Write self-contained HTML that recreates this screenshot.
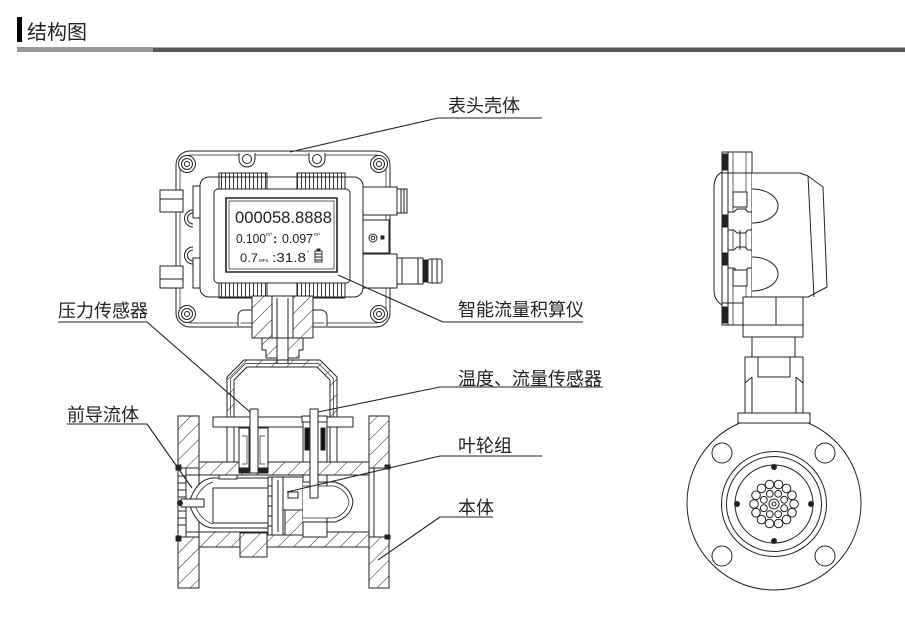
<!DOCTYPE html>
<html><head><meta charset="utf-8">
<style>
html,body{margin:0;padding:0;background:#fff;}
body{width:905px;height:625px;overflow:hidden;position:relative;}
svg{position:absolute;left:0;top:0;}
</style></head><body>
<svg width="905" height="625" viewBox="0 0 905 625" xmlns="http://www.w3.org/2000/svg">
<defs>
<pattern id="h" width="11" height="11" patternUnits="userSpaceOnUse" patternTransform="rotate(45)">
<line x1="0" y1="-1" x2="0" y2="12" stroke="#222" stroke-width="1"/>
</pattern>
<pattern id="v" width="4" height="10" patternUnits="userSpaceOnUse">
<line x1="1.5" y1="0" x2="1.5" y2="10" stroke="#222" stroke-width="0.9"/>
</pattern>
</defs>
<rect width="905" height="625" fill="#fff"/>

<!-- header -->
<rect x="17" y="17" width="5" height="25" fill="#000"/>
<text x="27" y="39" font-family="Liberation Sans, Noto Sans CJK SC, sans-serif" font-size="20" fill="#222">结构图</text>
<rect x="17" y="47" width="136" height="5" fill="#9a9a9a"/>
<rect x="153" y="47.5" width="752" height="4.5" fill="#555"/>

<g fill="none" stroke="#222" stroke-width="1" stroke-linejoin="round">
<!-- ===== HEAD FRONT ===== -->
<rect x="176" y="151" width="214" height="176" rx="14" fill="#fff"/>
<rect x="180" y="155" width="206" height="168" rx="11" stroke-width="0.7"/>
<!-- corner bolts -->
<circle cx="187" cy="164" r="8.5" fill="#fff"/><circle cx="187" cy="164" r="5.5"/><circle cx="187" cy="164" r="2.5"/>
<circle cx="379" cy="164" r="8.5" fill="#fff"/><circle cx="379" cy="164" r="5.5"/><circle cx="379" cy="164" r="2.5"/>
<circle cx="187" cy="314" r="8.5" fill="#fff"/><circle cx="187" cy="314" r="5.5"/><circle cx="187" cy="314" r="2.5"/>
<circle cx="379" cy="314" r="8.5" fill="#fff"/><circle cx="379" cy="314" r="5.5"/><circle cx="379" cy="314" r="2.5"/>
<!-- top lugs -->
<path d="M239,153 v6 a8,8 0 0 0 16,0 v-6" fill="#fff"/><circle cx="247" cy="159" r="4.5"/>
<path d="M309,153 v6 a8,8 0 0 0 16,0 v-6" fill="#fff"/><circle cx="317" cy="159" r="4.5"/>
<!-- left lugs -->
<path d="M193,210 a8.5,8.5 0 0 0 0,17"/><path d="M193,213 a5.5,5.5 0 0 0 0,11"/>
<path d="M193,247 a8.5,8.5 0 0 0 0,17"/><path d="M193,250 a5.5,5.5 0 0 0 0,11"/>
<!-- left tabs -->
<rect x="160" y="190" width="23" height="22" fill="#fff"/><line x1="160" y1="199" x2="183" y2="199"/>
<rect x="160" y="266" width="23" height="22" fill="#fff"/><line x1="160" y1="279" x2="183" y2="279"/>

<!-- display frame -->
<rect x="193" y="186" width="7" height="32"/>
<rect x="193" y="258" width="7" height="30"/>
<rect x="200" y="177" width="163" height="120" rx="9" fill="#fff"/>
<rect x="214" y="189" width="136" height="94" rx="4"/>
<!-- ribs -->
<rect x="219" y="173" width="48" height="16" fill="url(#v)"/>
<rect x="297" y="173" width="48" height="16" fill="url(#v)"/>
<rect x="219" y="283" width="48" height="15" fill="url(#v)"/>
<rect x="297" y="283" width="48" height="15" fill="url(#v)"/>
<rect x="219" y="173" width="48" height="16"/>
<rect x="297" y="173" width="48" height="16"/>
<rect x="219" y="283" width="48" height="15"/>
<rect x="297" y="283" width="48" height="15"/>
<!-- LCD -->
<rect x="226" y="198" width="111" height="74" stroke-width="1.6" fill="#fff"/>
<rect x="229" y="201" width="105" height="68" stroke-width="0.7"/>

<!-- right connectors -->
<rect x="363" y="187" width="34" height="28" fill="#fff"/>
<rect x="397" y="189" width="10" height="24" fill="#fff"/>
<line x1="401" y1="189" x2="401" y2="213"/><line x1="404" y1="189" x2="404" y2="213"/>
<rect x="363" y="220" width="26" height="33" fill="#fff"/>
<circle cx="373" cy="238" r="4"/><circle cx="373" cy="238" r="1.8"/>
<rect x="381" y="236" width="3" height="3" fill="#222"/>
<rect x="363" y="254" width="34" height="34" fill="#fff"/>
<rect x="397" y="258" width="26" height="26" fill="#fff"/>
<line x1="402" y1="258" x2="402" y2="284"/><line x1="418" y1="258" x2="418" y2="284"/>
<rect x="423" y="260" width="5" height="22" fill="#222"/>
<rect x="428" y="259" width="14" height="24" rx="2" fill="#fff"/>
<line x1="432" y1="259" x2="432" y2="283"/><line x1="437" y1="259" x2="437" y2="283"/>

<!-- neck under head -->
<path d="M238,326 v-10 a6,6 0 0 1 6,-6 h8" fill="#fff"/>
<path d="M327,326 v-10 a6,6 0 0 0 -6,-6 h-8" fill="#fff"/>
<rect x="252" y="296" width="20" height="42" fill="#fff"/>
<rect x="293" y="296" width="20" height="42" fill="#fff"/>
<rect x="252" y="296" width="20" height="42" fill="url(#h)"/>
<rect x="293" y="296" width="20" height="42" fill="url(#h)"/>
<rect x="272" y="296" width="21" height="42" fill="#fff"/>
<path d="M262,338 V350 H266 V358 H277 V338 Z" fill="url(#h)"/>
<path d="M303,338 V350 H299 V358 H288 V338 Z" fill="url(#h)"/>
<line x1="277" y1="298" x2="277" y2="364"/>
<line x1="288" y1="298" x2="288" y2="364"/>

<!-- dome bracket -->
<path d="M227,417 V377 L244,360 H320 L337,377 V417 H330 V380 L317,367 H247 L234,380 V417 Z" fill="url(#h)"/>
<path d="M230.5,417 V378.5 L245.5,363.5 H318.5 L333.5,378.5 V417" stroke-width="0.7"/>
<line x1="227" y1="427" x2="227" y2="462"/><line x1="234" y1="427" x2="234" y2="462"/>
<line x1="330" y1="427" x2="330" y2="462"/><line x1="337" y1="427" x2="337" y2="462"/>
<rect x="213" y="417" width="140" height="10" fill="#fff"/>

<!-- ===== BODY ===== -->
<rect x="178" y="416" width="21" height="172" fill="#fff"/>
<rect x="369" y="416" width="20" height="172" fill="#fff"/>
<rect x="178" y="416" width="21" height="52" fill="url(#h)"/>
<rect x="178" y="537" width="21" height="51" fill="url(#h)"/>
<rect x="369" y="416" width="20" height="52" fill="url(#h)"/>
<rect x="369" y="537" width="20" height="51" fill="url(#h)"/>
<rect x="199" y="462" width="170" height="13" fill="url(#h)"/>
<rect x="199" y="532" width="170" height="15" fill="url(#h)"/>
<line x1="199" y1="462" x2="369" y2="462"/>
<line x1="178" y1="475" x2="389" y2="475"/>
<line x1="178" y1="532" x2="389" y2="532"/>
<line x1="199" y1="547" x2="369" y2="547"/>
<rect x="240" y="533" width="27" height="24" fill="#fff"/>
<rect x="240" y="533" width="27" height="24" fill="url(#h)"/>
<!-- flange faces -->
<rect x="178" y="468" width="8" height="69" fill="#fff"/>
<path d="M178,476 h8 M178,483 h8 M178,490 h8 M178,497 h8 M178,504 h8 M178,511 h8 M178,518 h8 M178,525 h8"/>
<rect x="176" y="465" width="5" height="5" fill="#222"/>
<rect x="176" y="536" width="5" height="5" fill="#222"/>
<rect x="369" y="468" width="20" height="69" fill="#fff"/>
<line x1="374" y1="468" x2="374" y2="537"/>
<rect x="385" y="465" width="5" height="4" fill="#222"/>
<rect x="385" y="535" width="5" height="4" fill="#222"/>

<!-- front guide -->
<path d="M212,478 H270 V528 H212 Q196,526 189,503 Q196,480 212,478 Z" fill="#fff"/>
<path d="M213,482 Q200,486 194,503 Q200,520 213,524" stroke-width="0.7"/>
<rect x="213" y="488" width="55" height="35"/>
<rect x="219" y="475" width="18" height="4" fill="#fff"/>
<rect x="181" y="499" width="23" height="8" fill="#fff"/>
<circle cx="180" cy="503" r="2.5" fill="#222"/>

<!-- impeller -->
<rect x="268" y="477" width="15" height="58" fill="#fff"/>
<line x1="272" y1="477" x2="272" y2="535"/>
<line x1="278" y1="480" x2="278" y2="532"/>
<path d="M268,486 h4 M268,496 h4 M268,506 h4 M268,516 h4 M268,526 h4"/>
<rect x="283" y="477" width="20" height="58" fill="#fff"/>
<rect x="285" y="510" width="18" height="25" fill="url(#h)"/>
<rect x="288" y="492" width="10" height="6"/>
<line x1="283" y1="510" x2="303" y2="510"/>

<!-- rear cone -->
<rect x="303" y="475" width="24" height="62" fill="#fff"/>
<path d="M303,482 H335 Q351,487 353,502 Q351,517 335,522 H303" fill="#fff"/>
<path d="M303,486 H334 Q347,490 349,502 Q347,514 334,518 H303" stroke-width="0.7"/>
<line x1="327" y1="475" x2="327" y2="486"/>
<line x1="327" y1="518" x2="327" y2="537"/>

<!-- right sensor -->
<rect x="302" y="416" width="25" height="6" fill="#fff"/>
<rect x="303" y="422" width="24" height="40" fill="#fff"/>
<rect x="305" y="428" width="4" height="22" fill="#111"/>
<rect x="321" y="428" width="4" height="22" fill="#111"/>
<rect x="310" y="409" width="8" height="89" fill="#fff"/>

<!-- left sensor -->
<path d="M239,428 h10 v45 h-10 z M258,428 h10 v45 h-10 z" fill="#fff"/>
<path d="M242,436 h5 v28 h-5 M265,436 h-5 v28 h5" stroke-width="0.7"/>
<rect x="239" y="468" width="29" height="5" fill="#222"/>
<rect x="250" y="409" width="8" height="64" fill="#fff"/>

<!-- ===== SIDE VIEW ===== -->
<path d="M722,172 Q714,176 714,188 V290 Q714,300 722,305"/>
<rect x="722" y="152" width="30" height="173" fill="#fff"/>
<line x1="728" y1="152" x2="728" y2="325"/>
<line x1="733" y1="152" x2="733" y2="325" stroke-width="0.7"/>
<line x1="746" y1="152" x2="746" y2="325" stroke-width="0.7"/>
<line x1="722" y1="173" x2="752" y2="173"/>
<line x1="722" y1="303" x2="752" y2="303"/>
<rect x="722" y="154" width="5" height="16" fill="#222"/>
<rect x="722" y="307" width="5" height="16" fill="#222"/>
<rect x="722" y="215" width="5" height="12" fill="#222"/>
<rect x="722" y="253" width="5" height="12" fill="#222"/>
<path d="M728,212 h6 l3,-3 h8 l3,3 h4 v18 h-4 l-3,3 h-8 l-3,-3 h-6 z" fill="#fff"/>
<path d="M728,250 h6 l3,-3 h8 l3,3 h4 v18 h-4 l-3,3 h-8 l-3,-3 h-6 z" fill="#fff"/>
<line x1="740" y1="230" x2="740" y2="250"/>
<rect x="733" y="192" width="14" height="15" fill="#fff"/>
<rect x="733" y="270" width="14" height="16" fill="#fff"/>
<path d="M752,173 H800 L808,176 L823,187 L827,287 L808,297 H752" fill="#fff"/>
<path d="M808,176 L814,297"/>
<path d="M752,189 A26,17 0 0 1 752,223"/>
<path d="M752,257 A26,17 0 0 1 752,291"/>
<rect x="743" y="297" width="60" height="40" fill="#fff"/>
<line x1="743" y1="325" x2="803" y2="325"/>
<line x1="776" y1="297" x2="776" y2="325"/>
<rect x="752" y="337" width="43" height="20" fill="#fff"/>

<!-- flange front -->
<circle cx="774" cy="503" r="87" fill="#fff"/>
<rect x="745" y="357" width="58" height="56" fill="#fff"/>
<path d="M758,357 V377 H790 V357"/>
<path d="M745,383 L752,377 M803,383 L796,377"/>
<line x1="752" y1="377" x2="752" y2="413"/><line x1="796" y1="377" x2="796" y2="413"/>
<rect x="738" y="413" width="72" height="10" fill="#fff"/>
<circle cx="722" cy="453" r="10"/><circle cx="825" cy="453" r="10"/>
<circle cx="722" cy="556" r="10"/><circle cx="825" cy="556" r="10"/>
<circle cx="774" cy="504" r="52.5"/>
<circle cx="774" cy="504" r="47.5"/>
<circle cx="774" cy="504" r="39"/>
<circle cx="774" cy="467" r="2.5" fill="#222"/><circle cx="774" cy="541" r="2.5" fill="#222"/>
<circle cx="737" cy="504" r="2.5" fill="#222"/><circle cx="811" cy="504" r="2.5" fill="#222"/>
<g stroke-width="1">
<circle cx="794" cy="504" r="4.3"/><circle cx="792" cy="512.7" r="4.3"/><circle cx="786.5" cy="519.6" r="4.3"/>
<circle cx="778.5" cy="523.5" r="4.3"/><circle cx="769.5" cy="523.5" r="4.3"/><circle cx="761.5" cy="519.6" r="4.3"/>
<circle cx="756" cy="512.7" r="4.3"/><circle cx="754" cy="504" r="4.3"/><circle cx="756" cy="495.3" r="4.3"/>
<circle cx="761.5" cy="488.4" r="4.3"/><circle cx="769.5" cy="484.5" r="4.3"/><circle cx="778.5" cy="484.5" r="4.3"/>
<circle cx="786.5" cy="488.4" r="4.3"/><circle cx="792" cy="495.3" r="4.3"/>
<circle cx="784.2" cy="508.2" r="3.4"/><circle cx="778.2" cy="514.2" r="3.4"/><circle cx="769.8" cy="514.2" r="3.4"/>
<circle cx="763.8" cy="508.2" r="3.4"/><circle cx="763.8" cy="499.8" r="3.4"/><circle cx="769.8" cy="493.8" r="3.4"/>
<circle cx="778.2" cy="493.8" r="3.4"/><circle cx="784.2" cy="499.8" r="3.4"/>
<circle cx="774" cy="504" r="5" fill="#fff"/><circle cx="774" cy="504" r="2"/>
</g>

<!-- ===== LEADERS ===== -->
<g stroke-width="1.1">
<polyline points="290,152 438,118 542,118"/>
<polyline points="338,275 443,322 583,322"/>
<polyline points="318,412 440,387 603,387"/>
<polyline points="287,492 440,456 542,456"/>
<polyline points="378,560 440,517 493,517"/>
<polyline points="58,322 147,322 250,412"/>
<polyline points="67,424 147,424 192,488"/>
</g>
</g>

<!-- LCD text -->
<g font-family="Liberation Sans, sans-serif" fill="#222">
<text x="235" y="223" font-size="17" textLength="97" lengthAdjust="spacingAndGlyphs">000058.8888</text>
<text x="236" y="243" font-size="13" textLength="30" lengthAdjust="spacingAndGlyphs">0.100</text>
<text x="266" y="236" font-size="5">m³</text>
<text x="273" y="243" font-size="13" font-weight="bold">:</text>
<text x="282" y="243" font-size="13" textLength="31" lengthAdjust="spacingAndGlyphs">0.097</text>
<text x="314" y="236" font-size="5">m³</text>
<text x="240" y="262" font-size="12" textLength="18" lengthAdjust="spacingAndGlyphs">0.7</text>
<text x="259" y="262" font-size="4.5">MPa</text>
<text x="272" y="262" font-size="13" textLength="34" lengthAdjust="spacingAndGlyphs">:31.8</text>
<text x="307" y="255" font-size="6">°</text>
</g>
<g fill="none" stroke="#222" stroke-width="0.9">
<rect x="315" y="251" width="7" height="11"/>
<rect x="317" y="249" width="3" height="2" fill="#222"/>
<path d="M315,254 h7 M315,257 h7 M315,260 h7"/>
</g>

<!-- labels -->
<g font-family="Liberation Sans, Noto Sans CJK SC, sans-serif" font-size="18" fill="#222">
<text x="448" y="112">表头壳体</text>
<text x="458" y="316">智能流量积算仪</text>
<text x="458" y="385">温度、流量传感器</text>
<text x="458" y="452">叶轮组</text>
<text x="458" y="514">本体</text>
<text x="58" y="317">压力传感器</text>
<text x="67" y="421">前导流体</text>
</g>
</svg>
</body></html>
